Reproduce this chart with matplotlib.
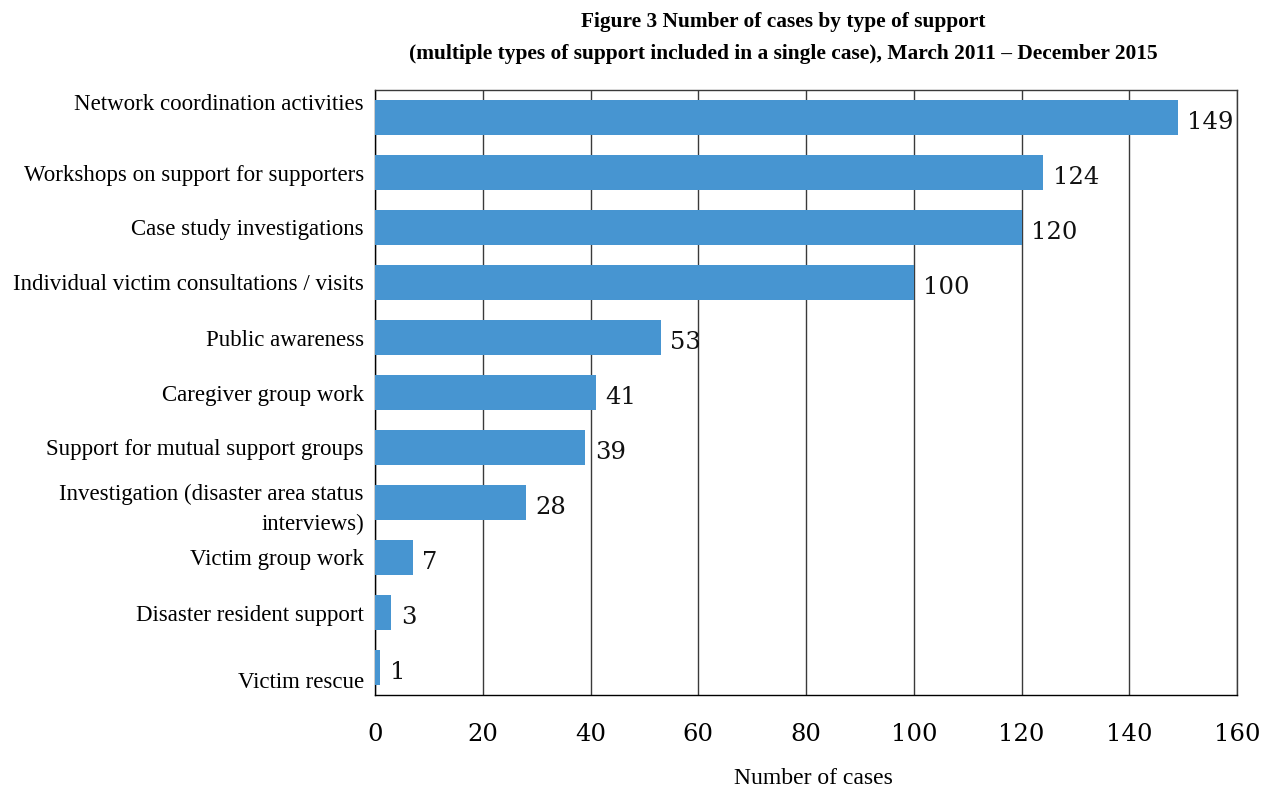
import matplotlib
matplotlib.use("Agg")
import matplotlib.pyplot as plt
import matplotlib.transforms as mtransforms

categories = [
    "Network coordination activities",
    "Workshops on support for supporters",
    "Case study investigations",
    "Individual victim consultations / visits",
    "Public awareness",
    "Caregiver group work",
    "Support for mutual support groups",
    "Investigation (disaster area status\ninterviews)",
    "Victim group work",
    "Disaster resident support",
    "Victim rescue",
]
cases = [149, 124, 120, 100, 53, 41, 39, 28, 7, 3, 1]
x_ticks = [0, 20, 40, 60, 80, 100, 120, 140, 160]

bar_color = "#4795D1"
serif = ["Liberation Serif", "DejaVu Serif"]
num_font = ["DejaVu Serif"]

fig = plt.figure(figsize=(12.71, 7.87), dpi=100)
ax = fig.add_axes([375 / 1271, 1 - 695 / 787, (1237 - 375) / 1271, (695 - 90) / 787])

pos = list(range(len(categories)))
ax.barh(pos, cases, height=0.64, color=bar_color, zorder=3)
ax.set_ylim(len(categories) - 0.5, -0.5)
ax.set_xlim(0, 160)

ax.set_xticks(x_ticks)
ax.set_xticklabels([str(t) for t in x_ticks], family=num_font, fontsize=17.5)
ax.tick_params(axis="x", length=0, pad=20)
ax.set_yticks(pos)
ax.set_yticklabels(categories, family=serif, fontsize=16.5, linespacing=1.55)
ax.tick_params(axis="y", length=0, pad=8)

# label nudges for the first and last rows
lab = ax.get_yticklabels()
lab[0].set_transform(lab[0].get_transform() + mtransforms.ScaledTranslation(0, 16 / 100, fig.dpi_scale_trans))
lab[-1].set_transform(lab[-1].get_transform() + mtransforms.ScaledTranslation(0, -12 / 100, fig.dpi_scale_trans))

ax.xaxis.grid(True, color="#3a3a3a", linewidth=1.0, zorder=1)
for s in ax.spines.values():
    s.set_color("#3a3a3a")
    s.set_linewidth(1.0)
ax.spines["left"].set_color("black")
ax.spines["bottom"].set_color("black")

for y, v in zip(pos, cases):
    ax.annotate(str(v), (v, y), xytext=(7, -3.5), textcoords="offset points",
                ha="left", va="center", family=num_font, fontsize=17.5, color="#111111")

fig.text(813 / 1271, 3 / 787, "Number of cases", ha="center", va="baseline",
         family=serif, fontsize=17)

fig.text(783 / 1271, 1 - 22 / 787, "Figure 3 Number of cases by type of support",
         ha="center", va="center", family=serif, fontsize=15.4, fontweight="bold")
fig.text(783 / 1271, 1 - 54 / 787,
         "(multiple types of support included in a single case), March 2011 \u2013 December 2015",
         ha="center", va="center", family=serif, fontsize=15.4, fontweight="bold")

fig.savefig("out.png", dpi=100)
